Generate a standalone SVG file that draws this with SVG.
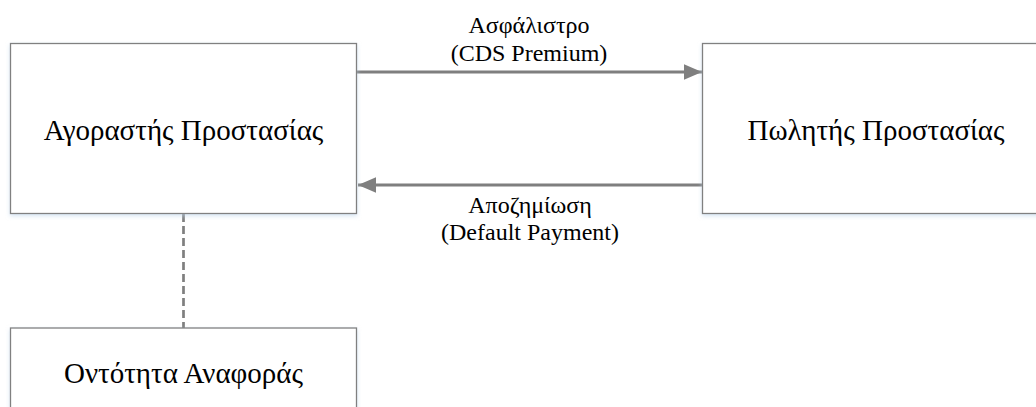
<svg xmlns="http://www.w3.org/2000/svg" width="1036" height="407" viewBox="0 0 1036 407">
<style>
.box{fill:#fff;stroke:#808080;stroke-width:1.3;filter:url(#sh)}
.nl{font-family:'Liberation Serif',serif;font-size:29px;fill:#000;text-anchor:middle}
.el{font-family:'Liberation Serif',serif;font-size:24px;fill:#000;text-anchor:middle}
.conn{stroke:#7f7f7f;stroke-width:3;fill:none}
.dash{stroke:#7f7f7f;stroke-width:2.7;fill:none;stroke-dasharray:8 4}
</style>
<defs>
<filter id="sh" x="-5%" y="-5%" width="110%" height="115%">
<feDropShadow dx="0" dy="2" stdDeviation="2" flood-color="#bcd3ea" flood-opacity="0.6"/>
</filter>
<marker id="ah" markerWidth="6" markerHeight="6" refX="6" refY="3" orient="auto" markerUnits="strokeWidth">
<path d="M0,0.4 L6,3 L0,5.6 Z" fill="#7f7f7f"/>
</marker>
</defs>
<g id="connectors">
<line class="conn" x1="355" y1="72" x2="702" y2="72" marker-end="url(#ah)"/>
<line class="conn" x1="703" y1="185" x2="358" y2="185" marker-end="url(#ah)"/>
<line class="dash" x1="183.5" y1="214" x2="183.5" y2="328"/>
</g>
<g id="labels">
<text class="el" x="529" y="33">Ασφάλιστρο</text>
<text class="el" x="529" y="61">(CDS Premium)</text>
<text class="el" x="530" y="213">Αποζημίωση</text>
<text class="el" x="530" y="240">(Default Payment)</text>
</g>
<g id="buyer">
<rect class="box" x="10.5" y="43.5" width="346" height="170"/>
<text class="nl" x="183.5" y="140">Αγοραστής Προστασίας</text>
</g>
<g id="seller">
<rect class="box" x="702.5" y="43.5" width="346" height="170"/>
<text class="nl" x="876" y="140">Πωλητής Προστασίας</text>
</g>
<g id="reference">
<rect class="box" x="10.5" y="328" width="346" height="170"/>
<text class="nl" x="183.5" y="383">Οντότητα Αναφοράς</text>
</g>
</svg>
